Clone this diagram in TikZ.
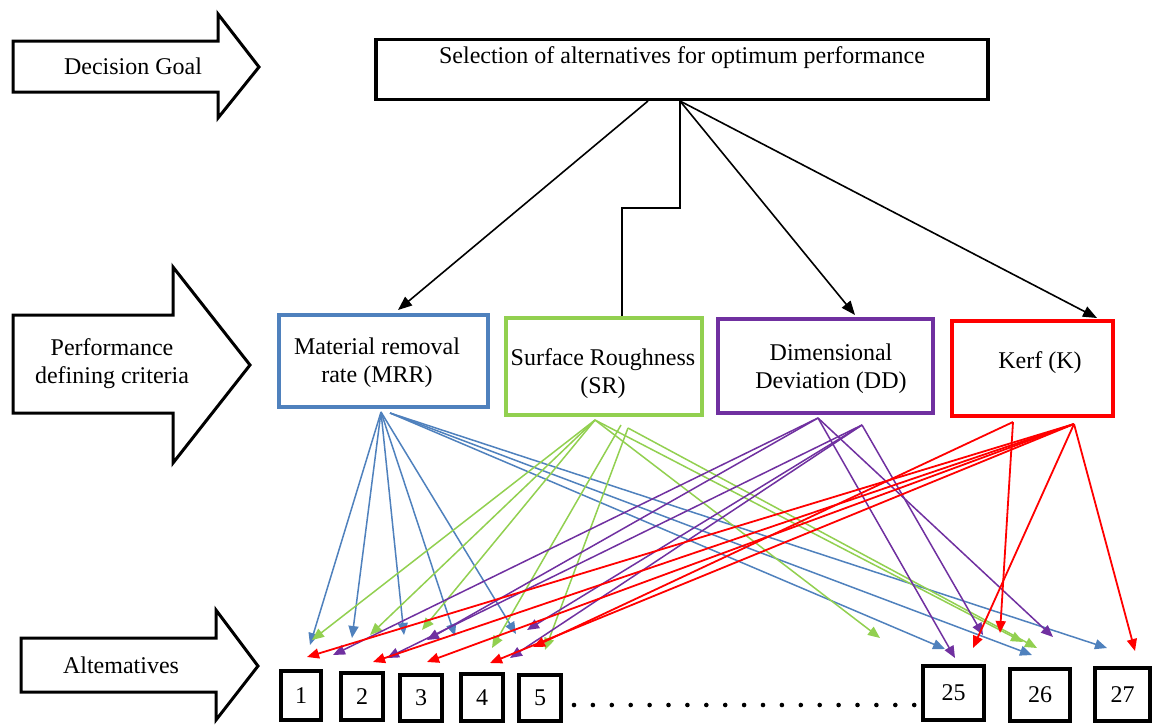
\documentclass[tikz,border=0pt]{standalone}
\usepackage{fontspec}
\setmainfont{Liberation Serif}
\usetikzlibrary{arrows.meta}
\definecolor{cblue}{RGB}{79,129,189}
\definecolor{cgreen}{RGB}{146,208,80}
\definecolor{cpurple}{RGB}{112,48,160}
\definecolor{cred}{RGB}{255,0,0}
\begin{document}
\begin{tikzpicture}[x=1pt,y=-1pt,
  txt/.style={font=\fontsize{24}{28}\selectfont, inner sep=0pt, align=center},
  blockarrow/.style={draw=black, line width=3pt, fill=white, line join=miter},
  critbox/.style={line width=4.5pt, fill=white, inner sep=0pt},
  altbox/.style={draw=black, line width=4pt, inner sep=0pt, font=\fontsize{24}{28}\selectfont},
  topcon/.style={draw=black, line width=1.6pt, -{Triangle[length=14pt,width=11pt]}},
  fan/.style={line width=1.5pt, -{Triangle[length=12pt,width=10pt]}},
]
\useasboundingbox (0,0) rectangle (1156,724);
\fill[white] (0,0) rectangle (1156,724);

% block arrows
\draw[blockarrow] (13,41) -- (218,41) -- (218,14) -- (259,67) -- (218,118) -- (218,92) -- (13,92) -- cycle;
\node[txt] (goalLbl) at (133,66) {Decision Goal};
\draw[blockarrow] (13,315) -- (173,315) -- (173,267) -- (250,365) -- (173,463) -- (173,413) -- (13,413) -- cycle;
\node[txt] (critLbl) at (112,364) {Performance\\defining criteria};
\draw[blockarrow] (21,638) -- (216,638) -- (216,610) -- (258,666) -- (216,720) -- (216,692) -- (21,692) -- cycle;
\node[txt] (altLbl) at (121,665) {Altematives};

% top box
\node[draw=black, line width=3.5pt, minimum width=612pt, minimum height=60pt, inner sep=0pt] (goal) at (682,69.5) {};
\node[txt] (goalText) at (682,58) {Selection of alternatives for optimum performance};

% criteria boxes
\node[critbox, draw=cblue, minimum width=209pt, minimum height=92pt] (mrr) at (383.5,361) {};
\node[txt] (mrrText) at (377,363) {Material removal\\rate (MRR)};
\node[critbox, draw=cgreen, minimum width=196pt, minimum height=97pt] (sr) at (604,366.5) {};
\node[txt] (srText) at (603,374) {Surface Roughness\\(SR)};
\node[critbox, draw=cpurple, minimum width=215pt, minimum height=94pt] (dd) at (825.5,366) {};
\node[txt] (ddText) at (831,369) {Dimensional\\Deviation (DD)};
\node[critbox, draw=cred, minimum width=161pt, minimum height=95pt] (kerf) at (1032.5,368.5) {};
\node[txt] (kerfText) at (1040,363) {Kerf (K)};

% alternatives boxes
\node[altbox, minimum width=40pt, minimum height=49pt] (a1) at (301,695.5) {1};
\node[altbox, minimum width=42pt, minimum height=47pt] (a2) at (362,696.5) {2};
\node[altbox, minimum width=42pt, minimum height=46pt] (a3) at (421,698) {3};
\node[altbox, minimum width=42pt, minimum height=47pt] (a4) at (482,697.5) {4};
\node[altbox, minimum width=42pt, minimum height=46pt] (a5) at (540,698) {5};
\node[altbox, minimum width=61pt, minimum height=54pt] (a25) at (953.5,693) {25};
\node[altbox, minimum width=60pt, minimum height=52pt] (a26) at (1040,695) {26};
\node[altbox, minimum width=55pt, minimum height=53pt] (a27) at (1122.5,694.5) {27};

% dots
\foreach \i in {0,...,18} \fill[black] (574+\i*18.9,705) circle (2.3pt);

% top connectors
\coordinate (gA) at (648,101);
\coordinate (gB) at (680,101);
\coordinate (mrrIn) at (398,310);
\coordinate (srIn) at (622,316);
\coordinate (ddIn) at (855,315);
\coordinate (kIn) at (1097,318);
\draw[topcon] (gA) -- (mrrIn);
\draw[black, line width=1.6pt] (gB) -- (680,208) -- (622,208) -- (srIn);
\draw[topcon] (gB) -- (ddIn);
\draw[topcon] (gB) -- (kIn);

% source points
\coordinate (mrrA) at (381,412);
\coordinate (mrrB) at (390,413);
\coordinate (srA) at (595,420);
\coordinate (srB) at (621,425);
\coordinate (srC) at (628,428);
\coordinate (ddA) at (818,418);
\coordinate (ddB) at (862,425);
\coordinate (kA) at (1013,422);
\coordinate (kB) at (1074,424);

% tip points
\foreach \n/\x/\y in {b1/310/645, b2/352/638, b3/404/635, b4/455/636, b5/516/634, b6/945/649, b7/1032/655, b8/1107/648,
  g1/312/640, g2/370/635, g3/422/630, g4/492/648, g5/545/650, g6/880/638, g7/1023/642, g8/1037/648,
  p1/333/655, p2/387/658, p3/427/640, p4/510/658, p5/527/630, p6/955/658, p7/983/635, p8/1053/637,
  r1/307/657, r2/373/662, r3/427/662, r4/490/663, r5/533/647, r6/973/648, r7/1000/633, r8/1135/651}
  \coordinate (\n) at (\x,\y);

\foreach \s/\t in {mrrA/b1, mrrA/b2, mrrA/b3, mrrA/b4, mrrA/b5, mrrB/b6, mrrB/b7, mrrB/b8}
  \draw[fan, cblue] (\s) -- (\t);
\foreach \s/\t in {srA/g1, srA/g2, srA/g3, srB/g4, srC/g5, srA/g6, srA/g7, srC/g8}
  \draw[fan, cgreen] (\s) -- (\t);
\foreach \s/\t in {ddA/p1, ddB/p2, ddA/p3, ddB/p4, ddB/p5, ddA/p6, ddB/p7, ddA/p8}
  \draw[fan, cpurple] (\s) -- (\t);
\foreach \s/\t in {kB/r1, kB/r2, kB/r3, kB/r4, kA/r5, kB/r6, kA/r7, kB/r8}
  \draw[fan, cred, line width=1.8pt] (\s) -- (\t);
\end{tikzpicture}
\end{document}
